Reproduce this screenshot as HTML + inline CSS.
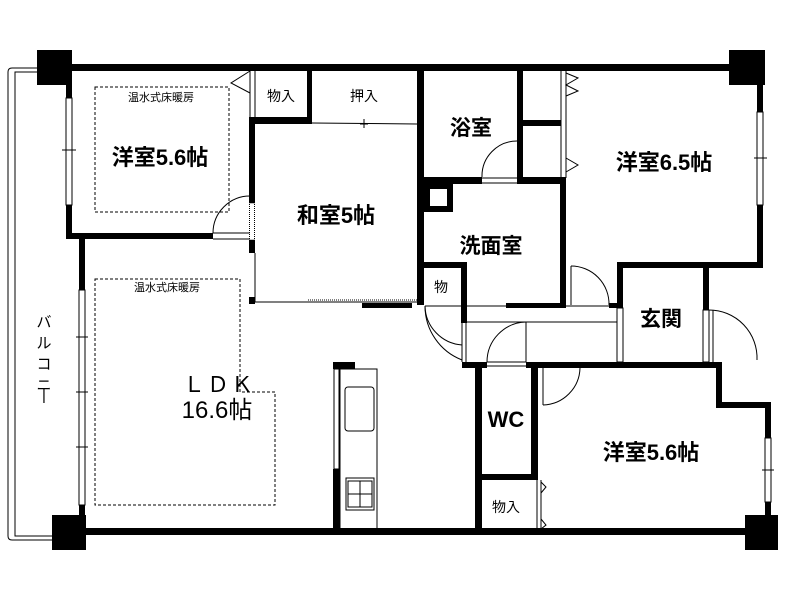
<!DOCTYPE html>
<html><head><meta charset="utf-8"><style>
html,body{margin:0;padding:0;background:#fff;width:800px;height:600px;overflow:hidden}
svg{display:block}
text{font-family:"Liberation Sans","Noto Sans CJK JP",sans-serif;fill:#000}
</style></head><body>
<svg width="800" height="600" viewBox="0 0 800 600" xmlns="http://www.w3.org/2000/svg">
<g fill="none" stroke="#000" stroke-width="1">
<path d="M50 68 H12 Q8 68 8 72 V536 Q8 540 12 540 H55"/>
<path d="M50 72 H15 V536 H55"/>
<path d="M95 87 H229 V212 H95 Z" stroke-dasharray="3,2"/>
<path d="M95 279 H240 V392 H275 V505 H95 Z" stroke-dasharray="3,2"/>
<line x1="250" y1="71" x2="250" y2="120"/>
<line x1="255" y1="71" x2="255" y2="120"/>
<line x1="312" y1="123" x2="417" y2="124"/>
<line x1="364" y1="119" x2="364" y2="128"/><line x1="360" y1="124" x2="368" y2="124"/>
<line x1="255" y1="302" x2="417" y2="302"/>
<line x1="255" y1="253" x2="255" y2="302"/>
<line x1="308" y1="300" x2="417" y2="300" stroke-dasharray="1,1"/>
<path d="M250 71 L231 83 L250 93"/>
<path d="M250 196 A37 37 0 0 0 213 233"/>
<line x1="213" y1="233" x2="250" y2="233"/><line x1="213" y1="239" x2="250" y2="239"/>
<path d="M517 141 A35 35 0 0 0 482 177"/>
<line x1="482" y1="178" x2="517" y2="178"/><line x1="482" y1="183" x2="517" y2="183"/>
<path d="M571 266 A38 38 0 0 1 609 305"/><line x1="571" y1="266" x2="571" y2="305"/>
<path d="M709 310 A48 48 0 0 1 757 360"/>
<line x1="709" y1="310" x2="709" y2="362"/><line x1="713" y1="310" x2="713" y2="362"/>
<path d="M425 306 A40 40 0 0 0 462 345"/>
<path d="M425 306 A58 58 0 0 0 462 360"/>
<line x1="462" y1="323" x2="462" y2="362"/><line x1="466" y1="323" x2="466" y2="362"/>
<path d="M526 322 A40 40 0 0 0 487 362"/><line x1="526" y1="322" x2="526" y2="362"/>
<line x1="487" y1="362" x2="526" y2="362"/><line x1="487" y1="366" x2="526" y2="366"/>
<path d="M543 405 A38 38 0 0 0 580 368"/><line x1="543" y1="368" x2="543" y2="405"/>
<line x1="540" y1="366" x2="583" y2="366"/>
<line x1="561" y1="71" x2="561" y2="178"/><line x1="566" y1="71" x2="566" y2="178"/>
<path d="M566 73 L578 78 L566 85 L578 91 L566 96"/>
<path d="M566 158 L578 165 L566 172"/>
<line x1="537" y1="480" x2="537" y2="529"/><line x1="541" y1="480" x2="541" y2="529"/>
<path d="M541 482 L546 487 L541 493"/><path d="M541 519 L546 525 L541 529"/>
<line x1="425" y1="306" x2="610" y2="306"/>
<line x1="467" y1="322" x2="617" y2="322"/>
<rect x="340" y="369" width="37" height="161"/>
<rect x="345" y="387" width="29" height="44" rx="3"/>
<rect x="346" y="478" width="28" height="32"/>
<rect x="348" y="481" width="24" height="26"/>
<line x1="348" y1="494" x2="372" y2="494"/><line x1="360" y1="481" x2="360" y2="507"/>
<rect x="66" y="98" width="6" height="107" fill="#fff"/>
<line x1="62" y1="150" x2="76" y2="150"/>
<rect x="79" y="290" width="6" height="215" fill="#fff"/>
<line x1="76" y1="337" x2="88" y2="337"/><line x1="76" y1="392" x2="88" y2="392"/><line x1="76" y1="447" x2="88" y2="447"/>
<rect x="757" y="112" width="6" height="93" fill="#fff"/>
<line x1="754" y1="158" x2="767" y2="158"/>
<rect x="765" y="438" width="6" height="64" fill="#fff"/>
<line x1="762" y1="470" x2="774" y2="470"/>
<rect x="617" y="308" width="6" height="54" fill="#fff"/>
<rect x="703" y="310" width="6" height="52" fill="#fff"/>
</g>
<g fill="#000">
<rect x="37" y="50" width="35" height="35"/>
<rect x="729" y="50" width="36" height="35"/>
<rect x="52" y="515" width="34" height="35"/>
<rect x="745" y="515" width="33" height="35"/>
<rect x="72" y="64" width="657" height="7"/>
<rect x="86" y="528" width="659" height="7"/>
<rect x="66" y="85" width="6" height="13"/><rect x="66" y="205" width="6" height="34"/>
<rect x="66" y="233" width="147" height="6"/>
<rect x="79" y="239" width="6" height="51"/><rect x="79" y="505" width="6" height="23"/>
<rect x="757" y="85" width="6" height="27"/><rect x="757" y="205" width="6" height="63"/>
<rect x="617" y="262" width="146" height="6"/>
<rect x="617" y="262" width="6" height="46"/>
<rect x="703" y="262" width="6" height="48"/>
<rect x="249" y="120" width="6" height="83"/>
<rect x="249" y="240" width="6" height="13"/>
<rect x="249" y="117" width="63" height="7"/>
<rect x="307" y="71" width="5" height="53"/>
<rect x="417" y="71" width="7" height="234"/>
<rect x="517" y="71" width="6" height="113"/>
<rect x="523" y="120" width="38" height="6"/>
<rect x="424" y="177" width="58" height="7"/>
<rect x="517" y="177" width="49" height="7"/>
<rect x="560" y="177" width="6" height="128"/>
<rect x="424" y="184" width="29" height="28"/>
<rect x="430" y="189" width="17" height="17" fill="#fff"/>
<rect x="424" y="262" width="43" height="6"/>
<rect x="461" y="262" width="6" height="61"/>
<rect x="362" y="303" width="50" height="5"/>
<rect x="506" y="303" width="60" height="5"/>
<rect x="609" y="303" width="14" height="5"/>
<rect x="249" y="297" width="6" height="7"/>
<rect x="462" y="362" width="25" height="6"/>
<rect x="526" y="362" width="194" height="6"/>
<rect x="716" y="362" width="6" height="46"/>
<rect x="716" y="402" width="55" height="6"/>
<rect x="765" y="402" width="6" height="36"/><rect x="765" y="502" width="6" height="13"/>
<rect x="475" y="362" width="7" height="168"/>
<rect x="531" y="362" width="7" height="118"/>
<rect x="475" y="474" width="63" height="6"/>
<rect x="333" y="362" width="22" height="7"/>
<rect x="333" y="469" width="7" height="61"/>
</g>
<rect x="249.5" y="203" width="5" height="37" fill="#fff" stroke="#000" stroke-width="1" stroke-dasharray="1,1"/>
<rect x="334" y="369" width="5" height="100" fill="#fff" stroke="#000" stroke-width="1"/>
<text x="161" y="101" font-size="11" text-anchor="middle">温水式床暖房</text>
<text x="167" y="291" font-size="11" text-anchor="middle">温水式床暖房</text>
<text x="281" y="101" font-size="14" text-anchor="middle">物入</text>
<text x="364" y="101" font-size="14" text-anchor="middle">押入</text>
<text x="160" y="165" font-size="22" font-weight="bold" text-anchor="middle">洋室5.6帖</text>
<text x="336" y="223" font-size="22" font-weight="bold" text-anchor="middle">和室5帖</text>
<text x="471" y="135" font-size="21" font-weight="bold" text-anchor="middle">浴室</text>
<text x="664" y="170" font-size="22" font-weight="bold" text-anchor="middle">洋室6.5帖</text>
<text x="491" y="253" font-size="21" font-weight="bold" text-anchor="middle">洗面室</text>
<text x="441" y="292" font-size="14" text-anchor="middle">物</text>
<text x="661" y="326" font-size="21" font-weight="bold" text-anchor="middle">玄関</text>
<text x="219" y="392" font-size="22" text-anchor="middle" letter-spacing="2">ＬＤＫ</text>
<text x="217" y="418" font-size="24" text-anchor="middle">16.6帖</text>
<text x="506" y="427" font-size="22" font-weight="bold" text-anchor="middle">WC</text>
<text x="651" y="460" font-size="22" font-weight="bold" text-anchor="middle">洋室5.6帖</text>
<text x="506" y="512" font-size="14" text-anchor="middle">物入</text>
<text font-size="15" text-anchor="middle"><tspan x="44" y="327">バ</tspan><tspan x="44" y="348">ル</tspan><tspan x="44" y="369">コ</tspan><tspan x="44" y="390">ニ</tspan><tspan x="44" y="400">|</tspan></text>
</svg>
</body></html>
